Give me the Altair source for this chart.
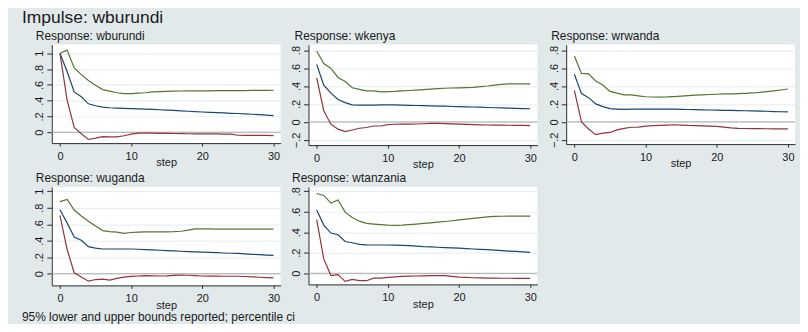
import altair as alt
import pandas as pd

# ---------------- data ----------------
steps = list(range(31))
panel_names = ["wburundi", "wkenya", "wrwanda", "wuganda", "wtanzania"]

irf_wburundi = [1.0, 0.77, 0.51, 0.45, 0.36, 0.335, 0.318, 0.31, 0.306, 0.303, 0.30, 0.297, 0.293, 0.289, 0.285, 0.28,
                0.276, 0.271, 0.266, 0.261, 0.256, 0.252, 0.248, 0.244, 0.24, 0.237, 0.233, 0.228, 0.222, 0.216, 0.21]
upper_wburundi = [1.0, 1.04, 0.815, 0.73, 0.655, 0.595, 0.54, 0.52, 0.50, 0.49, 0.49, 0.495, 0.50, 0.51, 0.515, 0.518,
                  0.52, 0.522, 0.524, 0.525, 0.525, 0.525, 0.526, 0.526, 0.526, 0.527, 0.528, 0.529, 0.53, 0.53, 0.532]
lower_wburundi = [1.0, 0.41, 0.06, -0.02, -0.092, -0.075, -0.055, -0.06, -0.06, -0.045, -0.025, -0.012, -0.01, -0.012,
                  -0.014, -0.015, -0.016, -0.018, -0.019, -0.02, -0.02, -0.021, -0.022, -0.023, -0.025, -0.038, -0.04,
                  -0.04, -0.04, -0.04, -0.042]

irf_wkenya = [0.64, 0.41, 0.32, 0.25, 0.215, 0.19, 0.188, 0.187, 0.188, 0.189, 0.19, 0.189, 0.187, 0.185, 0.183, 0.181,
              0.179, 0.177, 0.175, 0.172, 0.17, 0.168, 0.166, 0.164, 0.161, 0.158, 0.156, 0.154, 0.151, 0.149, 0.147]
upper_wkenya = [0.79, 0.65, 0.595, 0.495, 0.45, 0.38, 0.362, 0.345, 0.345, 0.335, 0.337, 0.34, 0.345, 0.35, 0.355, 0.36,
                0.365, 0.37, 0.375, 0.378, 0.38, 0.382, 0.385, 0.393, 0.40, 0.41, 0.418, 0.423, 0.423, 0.423, 0.423]
lower_wkenya = [0.49, 0.125, -0.025, -0.08, -0.108, -0.09, -0.07, -0.062, -0.045, -0.045, -0.03, -0.026, -0.025, -0.025,
                -0.023, -0.02, -0.016, -0.015, -0.018, -0.022, -0.025, -0.028, -0.03, -0.032, -0.034, -0.035, -0.036,
                -0.037, -0.038, -0.039, -0.04]

irf_wrwanda = [0.53, 0.315, 0.27, 0.2, 0.17, 0.147, 0.143, 0.14, 0.141, 0.142, 0.143, 0.143, 0.143, 0.142, 0.141, 0.14,
               0.138, 0.136, 0.134, 0.132, 0.13, 0.128, 0.127, 0.125, 0.124, 0.122, 0.12, 0.118, 0.115, 0.113, 0.111]
upper_wrwanda = [0.735, 0.54, 0.535, 0.455, 0.41, 0.34, 0.32, 0.30, 0.30, 0.29, 0.28, 0.277, 0.276, 0.278, 0.282, 0.287,
                 0.292, 0.297, 0.301, 0.305, 0.308, 0.311, 0.313, 0.315, 0.318, 0.322, 0.328, 0.336, 0.345, 0.355, 0.366]
lower_wrwanda = [0.35, 0.0, -0.08, -0.143, -0.126, -0.118, -0.09, -0.072, -0.06, -0.058, -0.047, -0.043, -0.04, -0.036,
                 -0.032, -0.036, -0.04, -0.042, -0.044, -0.047, -0.05, -0.058, -0.068, -0.072, -0.074, -0.075, -0.076,
                 -0.077, -0.078, -0.078, -0.079]

irf_wuganda = [0.777, 0.617, 0.445, 0.406, 0.328, 0.31, 0.30, 0.30, 0.30, 0.30, 0.30, 0.297, 0.293, 0.289, 0.285, 0.281,
               0.277, 0.273, 0.269, 0.265, 0.262, 0.259, 0.256, 0.252, 0.249, 0.246, 0.241, 0.236, 0.232, 0.227, 0.223]
upper_wuganda = [0.875, 0.90, 0.773, 0.70, 0.637, 0.578, 0.523, 0.51, 0.504, 0.49, 0.50, 0.505, 0.508, 0.508, 0.508, 0.508,
                 0.51, 0.515, 0.53, 0.543, 0.543, 0.543, 0.542, 0.541, 0.54, 0.54, 0.54, 0.54, 0.54, 0.54, 0.54]
lower_wuganda = [0.707, 0.297, 0.012, -0.04, -0.09, -0.07, -0.066, -0.078, -0.055, -0.04, -0.031, -0.027, -0.023, -0.025,
                 -0.027, -0.025, -0.02, -0.016, -0.018, -0.022, -0.027, -0.028, -0.029, -0.03, -0.03, -0.03, -0.033,
                 -0.037, -0.042, -0.046, -0.05]

irf_wtanzania = [0.618, 0.47, 0.392, 0.376, 0.31, 0.298, 0.282, 0.278, 0.276, 0.276, 0.276, 0.275, 0.273, 0.27, 0.265,
                 0.26, 0.257, 0.254, 0.251, 0.248, 0.245, 0.241, 0.237, 0.233, 0.23, 0.226, 0.222, 0.217, 0.213, 0.208,
                 0.204]
upper_wtanzania = [0.778, 0.759, 0.684, 0.715, 0.596, 0.543, 0.508, 0.486, 0.48, 0.475, 0.47, 0.468, 0.47, 0.475, 0.48,
                   0.486, 0.492, 0.498, 0.505, 0.512, 0.52, 0.528, 0.535, 0.543, 0.55, 0.555, 0.556, 0.557, 0.557,
                   0.558, 0.558]
lower_wtanzania = [0.524, 0.14, -0.022, -0.013, -0.078, -0.06, -0.072, -0.072, -0.047, -0.047, -0.04, -0.035, -0.03,
                   -0.028, -0.026, -0.025, -0.023, -0.022, -0.022, -0.03, -0.037, -0.04, -0.043, -0.045, -0.046, -0.047,
                   -0.048, -0.048, -0.049, -0.05, -0.05]

x_ticks = [0, 10, 20, 30]
yticks_0_1 = [0, 0.2, 0.4, 0.6, 0.8, 1.0]
yticks_m2_8 = [-0.2, 0, 0.2, 0.4, 0.6, 0.8]
yticks_0_8 = [0, 0.2, 0.4, 0.6, 0.8]

main_title = "Impulse: wburundi"
footnote = "95% lower and upper bounds reported; percentile ci"

# ---------------- style ----------------
FONT = "Liberation Sans"
BG = "#E1E9EB"
GRID = "#E9F0F2"
ZERO = "#A8A8A8"
AXIS = "#2b2b2b"
TXT = "#1a1a1a"
NAVY, MAROON, GREEN = "#1A476F", "#90353B", "#55752F"
XDOM = [-1.15, 31.0]
PW = 230
TOFF = 2


def make_panel(name, irf, lower, upper, ydomain, yticks, height, tdx):
    df = pd.DataFrame({
        "step": steps * 3,
        "value": irf + lower + upper,
        "series": ["irf"] * 31 + ["lower"] * 31 + ["upper"] * 31,
    })
    zero_df = pd.DataFrame({"value": [0.0]})
    y_enc = alt.Y(
        "value:Q",
        scale=alt.Scale(domain=ydomain, nice=False, zero=False),
        axis=alt.Axis(values=yticks, title=None, labelAngle=270, labelAlign="center",
                      labelBaseline="bottom", tickSize=5, labelPadding=2, grid=True,
                      gridColor=GRID, gridWidth=1.2, labelFlush=False,
                      labelExpr="replace(format(datum.value, '.1~f'), '0.', '.')"),
    )
    x_enc = alt.X(
        "step:Q",
        scale=alt.Scale(domain=XDOM, nice=False, zero=False),
        axis=alt.Axis(values=x_ticks, title="step", grid=False, tickSize=3, labelPadding=4,
                      titlePadding=-4, labelAngle=0, labelFlush=False),
    )
    zero = alt.Chart(zero_df).mark_rule(color=ZERO, strokeWidth=1).encode(y=y_enc)
    lines = alt.Chart(df).mark_line(strokeWidth=1.2).encode(
        x=x_enc,
        y=y_enc,
        color=alt.Color("series:N",
                        scale=alt.Scale(domain=["irf", "lower", "upper"], range=[NAVY, MAROON, GREEN])),
    )
    return alt.layer(zero, lines).properties(
        width=PW, height=height,
        title=alt.TitleParams(f"Response: {name}", anchor="start", frame="group", dx=tdx, offset=TOFF,
                              fontSize=12, fontWeight="normal", font=FONT, color=TXT),
    )


p1 = make_panel(panel_names[0], irf_wburundi, lower_wburundi, upper_wburundi, [-0.138, 1.110], yticks_0_1, 99, -16)
p2 = make_panel(panel_names[1], irf_wkenya, lower_wkenya, upper_wkenya, [-0.258, 0.861], yticks_m2_8, 101, -14)
p3 = make_panel(panel_names[2], irf_wrwanda, lower_wrwanda, upper_wrwanda, [-0.248, 0.861], yticks_m2_8, 100, -15)
p4 = make_panel(panel_names[3], irf_wuganda, lower_wuganda, upper_wuganda, [-0.141, 1.053], yticks_0_1, 99, -16)
p5 = make_panel(panel_names[4], irf_wtanzania, lower_wtanzania, upper_wtanzania, [-0.108, 0.842], yticks_0_8, 98, -16.5)

row1 = alt.hconcat(p1, p2, p3, spacing=9)
row2 = alt.hconcat(p4, p5, spacing=9)
inner = alt.vconcat(
    row1, row2, spacing=1,
    title=alt.TitleParams(footnote, orient="bottom", anchor="start", frame="group", dx=-30, offset=2,
                          fontSize=12, fontWeight="normal", font=FONT, color=TXT),
)
chart = alt.vconcat(
    inner, spacing=0,
    title=alt.TitleParams(main_title, anchor="start", frame="group", dx=-30, offset=3,
                          fontSize=17.5, fontWeight="normal", font=FONT, color=TXT),
).properties(
    padding={"left": 14, "top": 0, "right": 4, "bottom": 0},
).configure(
    background=BG, font=FONT,
).configure_view(
    fill="white", strokeWidth=0,
).configure_axis(
    labelFont=FONT, titleFont=FONT, labelFontSize=11, titleFontSize=11, titleFontWeight="normal",
    labelColor=TXT, titleColor=TXT, domainColor=AXIS, tickColor=AXIS, domainWidth=1, tickWidth=1,
).configure_legend(disable=True)

chart.save("out.html", embed_options={"renderer": "svg", "actions": False})
